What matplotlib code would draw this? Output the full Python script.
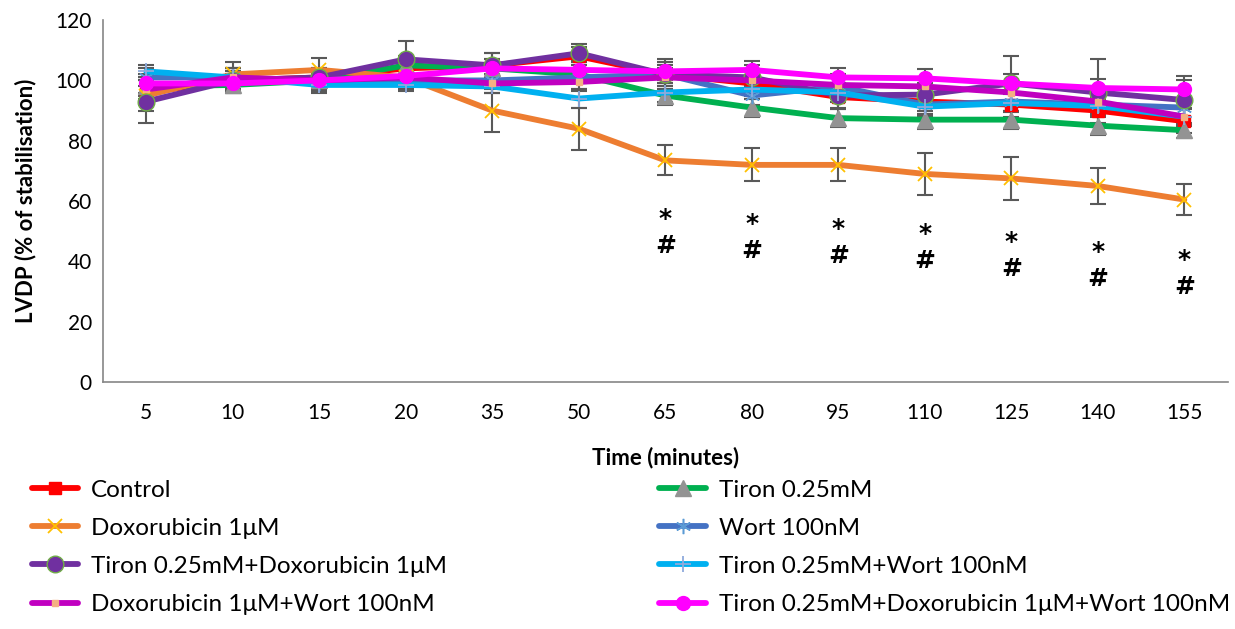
import numpy as np
import matplotlib
matplotlib.use("Agg")
import matplotlib.pyplot as plt

plt.rcParams['font.family'] = ['Lato', 'DejaVu Sans']

times = ["5", "10", "15", "20", "35", "50", "65", "80", "95", "110", "125", "140", "155"]

control = [96, 100, 101, 104, 105, 108, 102, 99, 94.5, 93, 92, 90, 86.5]
control_err = [4, 3, 3, 4, 4, 3, 4, 4, 4, 4, 4, 4, 4]

tiron = [98, 98.5, 100, 105, 104, 102, 95, 91, 87.5, 87, 87, 85, 83.5]
tiron_err = [3, 2, 2, 3, 3, 3, 3, 3, 3, 3, 3, 3, 2.5]

dox = [95, 102, 103.5, 101, 90, 84, 73.5, 72, 72, 69, 67.5, 65, 60.5]
dox_err = [5, 4, 4, 4, 7, 7, 5, 5.5, 5.5, 7, 7, 6, 5]

wort = [101, 101, 99, 100, 100, 101, 102, 95, 98, 92, 93, 92, 91]
wort_err = [3, 3, 3, 3, 4, 4, 3, 3, 4, 3, 3, 3, 3]

tiron_dox = [93, 100, 101, 107, 105, 109, 102, 101, 95, 95.3, 99, 96, 93.5]
tiron_dox_err = [7, 4, 3, 6, 4, 3, 5, 4, 4, 4, 9, 11, 8]

tiron_wort = [103, 101, 98.5, 98.5, 98, 94, 96, 97, 96, 91.3, 92.5, 91.5, 88]
tiron_wort_err = [2, 2, 2, 2, 2, 3, 3, 3, 3, 3, 3, 3, 3]

dox_wort = [97, 101, 100, 101, 99, 99.5, 101, 100, 98.5, 98, 96, 93, 88]
dox_wort_err = [3, 3, 3, 3, 3, 3, 3, 3, 3, 3, 3, 3, 3]

tdw = [99, 99, 100, 101.5, 104, 103.5, 103, 103.5, 101, 100.7, 99, 97.5, 97]
tdw_err = [3, 3, 3, 3, 3, 3, 3, 3, 3, 3, 3, 3, 3]

# significance marks: time index and centre height of the "* / #" pair
sig_idx = [6, 7, 8, 9, 10, 11, 12]
sig_y = [49.5, 48, 46.2, 44.7, 41.9, 38.7, 36.1]

x = np.arange(len(times))

fig = plt.figure(figsize=(12.35, 6.29), dpi=100)
ax = fig.add_axes([0.0834, 0.3927, 0.9106, 0.5753])

series = [
    ("Control", control, control_err, dict(color="#FF0000", marker="s", ms=8, mfc="#FF0000", mec="#FF0000")),
    ("Tiron 0.25mM", tiron, tiron_err, dict(color="#00B050", marker="^", ms=11, mfc="#939393", mec="#939393")),
    ("Doxorubicin 1\u03bcM", dox, dox_err, dict(color="#ED7D31", marker="x", ms=10, mfc="#FFC000", mec="#FFC000", mew=1.3)),
    ("Wort 100nM", wort, wort_err, dict(color="#4472C4", marker=(6, 2, 0), ms=11, mfc="#5B9BD5", mec="#5B9BD5", mew=1.1)),
    ("Tiron 0.25mM+Doxorubicin 1\u03bcM", tiron_dox, tiron_dox_err, dict(color="#7030A0", marker="o", ms=12, mfc="#7030A0", mec="#70AD47", mew=1)),
    ("Tiron 0.25mM+Wort 100nM", tiron_wort, tiron_wort_err, dict(color="#00B0F0", marker="+", ms=12, mfc="#8FAADC", mec="#8FAADC", mew=1.3)),
    ("Doxorubicin 1\u03bcM+Wort 100nM", dox_wort, dox_wort_err, dict(color="#C000C0", marker="s", ms=5, mfc="#F4B183", mec="#F4B183")),
    ("Tiron 0.25mM+Doxorubicin 1\u03bcM+Wort 100nM", tdw, tdw_err, dict(color="#FF00FF", marker="o", ms=10, mfc="#FF00FF", mec="#FF00FF")),
]

handles = {}
for name, vals, err, st in series:
    ax.errorbar(x, vals, yerr=err, fmt="none", ecolor="#595959", elinewidth=1.5, capsize=6, capthick=1.5, zorder=2)
    ln, = ax.plot(x, vals, lw=4.2, label=name, zorder=3, solid_capstyle="round", **st)
    handles[name] = ln

for i, sy in zip(sig_idx, sig_y):
    ax.text(x[i], sy, "*\n#", ha="center", va="center", fontsize=18,
            fontweight="bold", linespacing=1.15, family="DejaVu Sans")

ax.set_xlim(-0.5, len(times) - 0.5)
ax.set_ylim(0, 120)
ax.set_yticks(range(0, 121, 20))
ax.set_xticks(x)
ax.set_xticklabels(times)
ax.tick_params(length=0, labelsize=15, pad=8)
ax.tick_params(axis="x", pad=15)
for s in ["top", "right"]:
    ax.spines[s].set_visible(False)
for s in ["left", "bottom"]:
    ax.spines[s].set_color("#868686")
    ax.spines[s].set_linewidth(1.2)

ax.set_xlabel("Time (minutes)", fontsize=16, fontweight="bold", labelpad=17)
ax.set_ylabel("LVDP (% of stabilisation)", fontsize=16, fontweight="bold", labelpad=14)

names = [s[0] for s in series]
col1 = [names[0], names[2], names[4], names[6]]
col2 = [names[1], names[3], names[5], names[7]]
leg_kw = dict(frameon=False, fontsize=17.5, handlelength=1.9, handletextpad=0.55,
              labelspacing=0.7, borderaxespad=0, borderpad=0)
fig.legend([handles[n] for n in col1], col1, loc="upper left",
           bbox_to_anchor=(0.0257, 0.237), **leg_kw)
fig.legend([handles[n] for n in col2], col2, loc="upper left",
           bbox_to_anchor=(0.534, 0.237), **leg_kw)

fig.savefig("out.png", dpi=100)
